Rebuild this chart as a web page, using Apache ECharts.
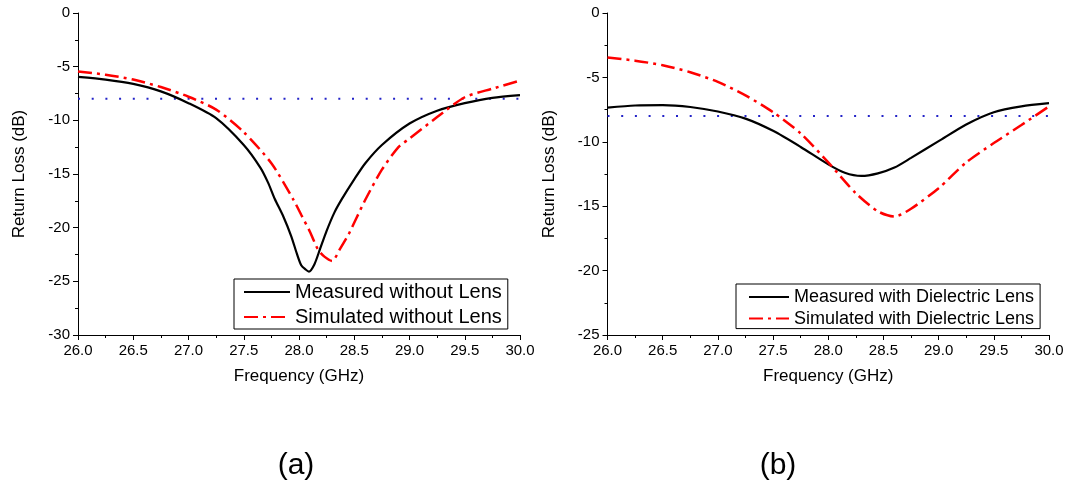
<!DOCTYPE html>
<html>
<head>
<meta charset="utf-8">
<script src="https://cdn.jsdelivr.net/npm/echarts@6/dist/echarts.min.js"></script>
<style>
  html, body { margin: 0; padding: 0; background: #fff; }
  #chart { width: 1074px; height: 485px; }
</style>
</head>
<body>
<div id="chart"></div>
<script>
// Return loss of the antenna, 26–30 GHz
// (a) without lens
const freqMeasA = [26.0, 26.25, 26.5, 26.75, 27.0, 27.25, 27.5, 27.65, 27.72, 27.78, 27.86, 27.93, 27.98, 28.02, 28.06, 28.09, 28.14, 28.19, 28.25, 28.32, 28.39, 28.5, 28.6, 28.75, 29.0, 29.25, 29.5, 29.75, 30.0];
const rlMeasA   = [-5.95, -6.2, -6.6, -7.3, -8.4, -9.8, -12.3, -14.4, -15.8, -17.3, -19.0, -20.8, -22.4, -23.5, -23.9, -24.1, -23.4, -22.0, -20.3, -18.6, -17.3, -15.5, -14.0, -12.3, -10.3, -9.1, -8.4, -7.9, -7.65];
const freqSimA  = [26.0, 26.25, 26.5, 26.75, 27.0, 27.25, 27.5, 27.75, 27.95, 28.02, 28.1, 28.17, 28.23, 28.3, 28.37, 28.45, 28.52, 28.6, 28.75, 28.9, 29.0, 29.25, 29.5, 29.75, 30.0];
const rlSimA    = [-5.45, -5.75, -6.2, -6.9, -7.8, -9.0, -11.1, -14.0, -17.4, -18.8, -20.4, -22.0, -22.7, -23.1, -22.0, -20.6, -19.1, -17.4, -14.6, -12.5, -11.7, -9.7, -7.85, -7.05, -6.3];

// (b) with dielectric lens
const freqMeasB = [26.0, 26.25, 26.5, 26.75, 27.0, 27.25, 27.5, 27.75, 28.0, 28.15, 28.3, 28.45, 28.6, 28.75, 29.0, 29.25, 29.5, 29.75, 30.0];
const rlMeasB   = [-7.35, -7.18, -7.15, -7.3, -7.65, -8.2, -9.15, -10.4, -11.75, -12.4, -12.65, -12.45, -12.0, -11.25, -9.95, -8.65, -7.7, -7.25, -7.0];
const freqSimB  = [26.0, 26.25, 26.5, 26.75, 27.0, 27.25, 27.5, 27.75, 28.0, 28.25, 28.45, 28.6, 28.75, 29.0, 29.25, 29.5, 29.75, 30.0];
const rlSimB    = [-3.45, -3.7, -4.05, -4.6, -5.35, -6.4, -7.7, -9.35, -11.6, -14.0, -15.4, -15.8, -15.2, -13.6, -11.6, -10.1, -8.7, -7.25];

// -8 dB reference level
const refFreq = [26.0, 30.0];
const refLevel = -8;

const xTicks = { min: 26, max: 30, interval: 0.5 };
const yTicksA = { min: -30, max: 0, interval: 5 };
const yTicksB = { min: -25, max: 0, interval: 5 };

const captions = ['(a)', '(b)'];
const namesA = ['Measured without Lens', 'Simulated without Lens'];
const namesB = ['Measured with Dielectric Lens', 'Simulated with Dielectric Lens'];

const FONT = '"Liberation Sans", Arial, sans-serif';
const pairs = (xs, ys) => xs.map((x, i) => [x, ys[i]]);

function xAxisFor(gridIndex) {
  return {
    type: 'value', gridIndex,
    min: xTicks.min, max: xTicks.max, interval: xTicks.interval,
    name: 'Frequency (GHz)', nameLocation: 'middle', nameGap: 33,
    nameTextStyle: { fontSize: 17, color: '#000', fontFamily: FONT },
    axisLine: { show: true, onZero: false, lineStyle: { color: '#000', width: 1 } },
    axisTick: { show: true, length: 5, lineStyle: { color: '#000' } },
    minorTick: { show: true, splitNumber: 2, length: 3, lineStyle: { color: '#000' } },
    splitLine: { show: false },
    axisLabel: { fontSize: 15, color: '#000', margin: 8, fontFamily: FONT,
      formatter: v => v.toFixed(1), showMinLabel: true, showMaxLabel: true }
  };
}
function yAxisFor(gridIndex, t) {
  return {
    type: 'value', gridIndex,
    min: t.min, max: t.max, interval: t.interval,
    name: 'Return Loss (dB)', nameLocation: 'middle', nameGap: 50, nameRotate: 90,
    nameTextStyle: { fontSize: 17, color: '#000', fontFamily: FONT },
    axisLine: { show: true, onZero: false, lineStyle: { color: '#000', width: 1 } },
    axisTick: { show: true, length: 5, lineStyle: { color: '#000' } },
    minorTick: { show: true, splitNumber: 2, length: 3, lineStyle: { color: '#000' } },
    splitLine: { show: false },
    axisLabel: { fontSize: 15, color: '#000', margin: 8, fontFamily: FONT }
  };
}

const measuredStyle = { color: '#000', width: 2.2, type: 'solid' };
const simulatedStyle = { color: '#ff0000', width: 2.5, type: [14, 5, 3, 5] };
const refStyle = { color: '#2323c8', width: 2, type: [2, 11.7] };

function curve(name, idx, data, style) {
  return {
    name, type: 'line', xAxisIndex: idx, yAxisIndex: idx, data,
    showSymbol: false, symbol: 'none', smooth: 0.25,
    lineStyle: style, itemStyle: { color: style.color }, z: 3
  };
}
function refLine(idx) {
  return {
    name: 'ref' + idx, type: 'line', xAxisIndex: idx, yAxisIndex: idx,
    data: refFreq.map(f => [f, refLevel]),
    showSymbol: false, symbol: 'none', lineStyle: refStyle, z: 2, silent: true
  };
}

// legend entries show only the line sample, no marker
const legendBase = {
  orient: 'vertical', borderColor: '#000', borderWidth: 1, backgroundColor: '#fff',
  itemHeight: 14, itemStyle: { opacity: 0 }
};

const chart = echarts.init(document.getElementById('chart'), null, { renderer: 'canvas' });
chart.setOption({
  animation: false,
  backgroundColor: '#fff',
  textStyle: { fontFamily: FONT },
  grid: [
    { left: 78, top: 13, width: 442, height: 322 },
    { left: 607.5, top: 13, width: 441.5, height: 322 }
  ],
  xAxis: [xAxisFor(0), xAxisFor(1)],
  yAxis: [yAxisFor(0, yTicksA), yAxisFor(1, yTicksB)],
  legend: [
    Object.assign({}, legendBase, {
      data: namesA, left: 234, top: 279,
      padding: [3, 6, 2, 9], itemGap: 5, itemWidth: 46,
      textStyle: { fontSize: 20, color: '#000', fontFamily: FONT }
    }),
    Object.assign({}, legendBase, {
      data: namesB, left: 736, top: 284,
      padding: [4, 6, 1, 12], itemGap: 3.6, itemWidth: 40,
      textStyle: { fontSize: 18, color: '#000', fontFamily: FONT }
    })
  ],
  graphic: [
    { type: 'text', x: 296, y: 466,
      style: { text: captions[0], font: '30px ' + FONT, fill: '#000', align: 'center', verticalAlign: 'middle' } },
    { type: 'text', x: 778, y: 466,
      style: { text: captions[1], font: '30px ' + FONT, fill: '#000', align: 'center', verticalAlign: 'middle' } }
  ],
  series: [
    refLine(0),
    curve(namesA[0], 0, pairs(freqMeasA, rlMeasA), measuredStyle),
    curve(namesA[1], 0, pairs(freqSimA, rlSimA), simulatedStyle),
    refLine(1),
    curve(namesB[0], 1, pairs(freqMeasB, rlMeasB), measuredStyle),
    curve(namesB[1], 1, pairs(freqSimB, rlSimB), simulatedStyle)
  ]
});
</script>
</body>
</html>
